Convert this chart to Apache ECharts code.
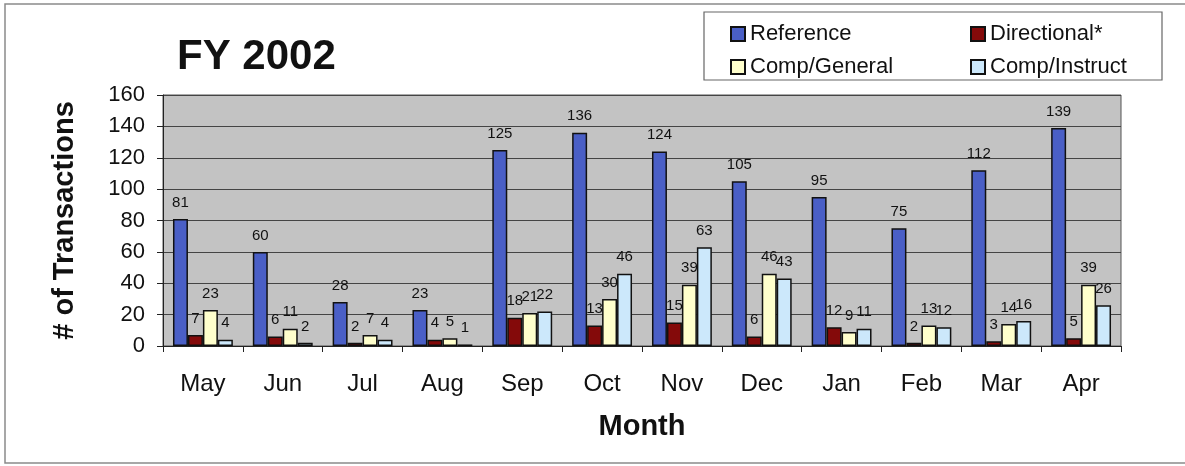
<!DOCTYPE html>
<html>
<head>
<meta charset="utf-8">
<script src="https://cdn.jsdelivr.net/npm/echarts@6/dist/echarts.min.js"></script>
<style>
html,body{margin:0;padding:0;background:#fff;}
#chart{width:1185px;height:466px;}
</style>
</head>
<body>
<div id="chart"></div>
<script>
const months = ['May','Jun','Jul','Aug','Sep','Oct','Nov','Dec','Jan','Feb','Mar','Apr'];
const reference = [81,60,28,23,125,136,124,105,95,75,112,139];
const directional = [7,6,2,4,18,13,15,6,12,2,3,5];
const compGeneral = [23,11,7,5,21,30,39,46,9,13,14,39];
const compInstruct = [4,2,4,1,22,46,63,43,11,12,16,26];
const yTicks = {min:0, max:160, interval:20};

const FONT = 'Liberation Sans, Arial, sans-serif';
const names = ['Reference','Directional*','Comp/General','Comp/Instruct'];
const colors = ['#4a5fc6','#840a0a','#ffffcc','#cce8fb'];
const dataSets = [reference, directional, compGeneral, compInstruct];

const chart = echarts.init(document.getElementById('chart'));

const legendPos = [[730,23],[970,23],[730,56],[970,56]];
const legends = names.map((n,i)=>({
  data:[n], left:legendPos[i][0], top:legendPos[i][1],
  itemWidth:14, itemHeight:14, padding:0,
  icon:'rect',
  textStyle:{fontFamily:FONT, fontSize:22, color:'#111'},
  selectedMode:false
}));

chart.setOption({
  backgroundColor:'#fff',
  animation:false,
  title:{text:'FY 2002', left:177, top:36, padding:0,
    textStyle:{fontFamily:FONT, fontSize:42, fontWeight:'bold', color:'#111'}},
  graphic:[
    {type:'rect', shape:{x:5,y:4,width:1200,height:459}, style:{fill:'none', stroke:'#8a8a8a', lineWidth:1.5}, z:-1},
    {type:'rect', shape:{x:704,y:12,width:458,height:68}, style:{fill:'#fff', stroke:'#666', lineWidth:1.2}, z:-1}
  ],
  legend:legends,
  grid:{left:163, right:64, top:95, bottom:120, show:true, backgroundColor:'#c3c3c3', borderColor:'#555', borderWidth:1},
  xAxis:{
    type:'category', data:months,
    axisLine:{lineStyle:{color:'#222', width:1}},
    axisTick:{show:true, length:6, lineStyle:{color:'#222'}},
    axisLabel:{fontFamily:FONT, fontSize:24, color:'#111', margin:26},
    name:'Month', nameLocation:'middle', nameGap:66,
    nameTextStyle:{fontFamily:FONT, fontSize:29, fontWeight:'bold', color:'#111'}
  },
  yAxis:{
    type:'value', min:yTicks.min, max:yTicks.max, interval:yTicks.interval,
    axisLine:{show:true, lineStyle:{color:'#222', width:1}},
    axisTick:{show:true, length:6, lineStyle:{color:'#222'}},
    axisLabel:{fontFamily:FONT, fontSize:22, color:'#111', margin:18},
    splitLine:{lineStyle:{color:'#444', width:1}},
    name:'# of Transactions', nameLocation:'middle', nameGap:84,
    nameTextStyle:{fontFamily:FONT, fontSize:29, fontWeight:'bold', color:'#111'}
  },
  series:dataSets.map((d,i)=>({
    name:names[i], type:'bar', data:d,
    barGap:'0%', barCategoryGap:'25%',
    itemStyle:{color:colors[i], borderColor:'#111', borderWidth:1.5},
    label:{show:true, position:'top', distance:9, fontFamily:FONT, fontSize:15, color:'#111'}
  }))
});
</script>
</body>
</html>
